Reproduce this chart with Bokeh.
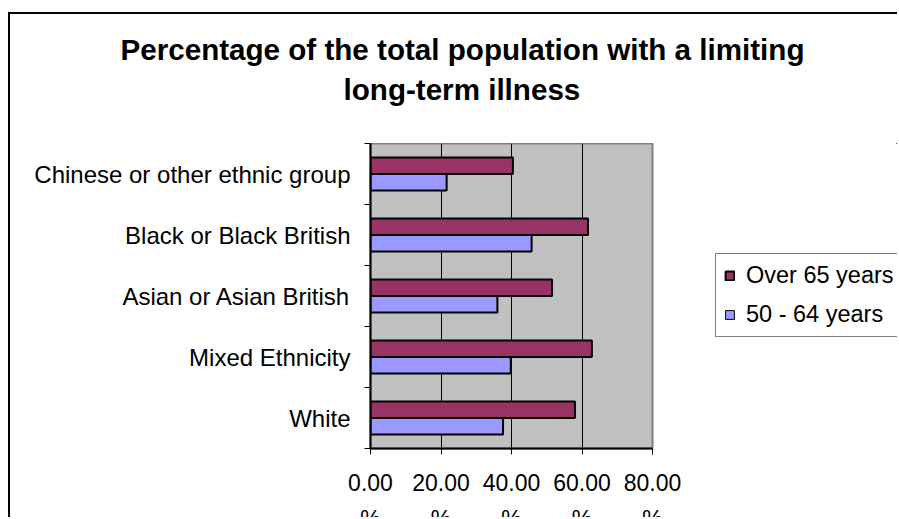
from bokeh.plotting import figure
from bokeh.layouts import row, column
from bokeh.models import Range1d, FixedTicker, Legend, LegendItem, Title, ColumnDataSource
from bokeh.core.properties import value
from bokeh.embed import file_html
from bokeh.resources import INLINE

categories = ["White", "Mixed Ethnicity", "Asian or Asian British",
              "Black or Black British", "Chinese or other ethnic group"]
over65 = [58.0, 62.8, 51.5, 61.7, 40.4]
age50_64 = [37.6, 39.8, 36.0, 45.7, 21.6]
x_ticks = [0, 20, 40, 60, 80]
x_tick_labels = ["0.00\n%", "20.00\n%", "40.00\n%", "60.00\n%", "80.00\n%"]
series_names = ["Over 65 years", "50 - 64 years"]
colors = ["#993366", "#9999FF"]
title_lines = ["Percentage of the total population with a limiting", "long-term illness"]

FONT = "Liberation Sans"
centers = [i + 0.5 for i in range(len(categories))]
off = 0.135
bh = 0.27
X0, X1 = 0, 80
FULL_W = 889
LEFT, RIGHT = 360, 65     # side borders of the main chart (px)
CHART_W = 707
FRAME_W = CHART_W - LEFT - RIGHT

# ---- title strip ----
pt = figure(width=FULL_W, height=131, output_backend="svg", toolbar_location=None,
            x_axis_location=None, y_axis_location=None,
            min_border_left=0, min_border_right=0, min_border_top=127, min_border_bottom=0,
            styles={"border-left": "2px solid black", "border-top": "2px solid black"})
pt.outline_line_color = None
pt.background_fill_color = "white"
pt.border_fill_color = "white"
pt.xgrid.grid_line_color = None
pt.ygrid.grid_line_color = None
spacer = Title(text=" ", align="left", text_font=FONT, text_font_size="1px", standoff=30)
t2 = Title(text=title_lines[1], align="left", text_font=FONT, text_font_size="29.6px",
           text_font_style="bold", text_color="black", offset=333, standoff=6)
t1 = Title(text=title_lines[0], align="left", text_font=FONT, text_font_size="29.6px",
           text_font_style="bold", text_color="black", offset=110, standoff=4)
pt.add_layout(spacer, "above")
pt.add_layout(t2, "above")
pt.add_layout(t1, "above")

# ---- main chart ----
p = figure(width=CHART_W, height=313, output_backend="svg", toolbar_location=None,
           x_range=Range1d(X0, X1), y_range=Range1d(0, len(categories)),
           min_border_left=LEFT, min_border_right=RIGHT, min_border_top=0,
           min_border_bottom=8,
           styles={"border-left": "2px solid black"})

p.background_fill_color = "#C0C0C0"
p.border_fill_color = "white"
p.outline_line_color = "#808080"
p.outline_line_width = 2

src1 = ColumnDataSource(dict(y=[c + off for c in centers], right=over65))
src2 = ColumnDataSource(dict(y=[c - off for c in centers], right=age50_64))
r1 = p.hbar(y="y", left=0, right="right", height=bh, source=src1,
            fill_color=colors[0], line_color="black", line_width=2)
r2 = p.hbar(y="y", left=0, right="right", height=bh, source=src2,
            fill_color=colors[1], line_color="black", line_width=2)

p.xaxis.ticker = FixedTicker(ticks=x_ticks)
p.xaxis.major_label_overrides = {t: "" for t in x_ticks}
p.xaxis.major_label_standoff = 0
p.xaxis.axis_line_color = "black"
p.xaxis.axis_line_width = 2
p.xaxis.major_tick_line_color = "black"
p.xaxis.major_tick_out = 6
p.xaxis.major_tick_in = 0
p.xaxis.minor_tick_line_color = None

p.yaxis.ticker = FixedTicker(ticks=centers, minor_ticks=list(range(len(categories) + 1)))
p.yaxis.major_label_overrides = {c: n for c, n in zip(centers, categories)}
p.yaxis.major_label_text_font = FONT
p.yaxis.major_label_text_font_size = "24px"
p.yaxis.major_label_text_color = "black"
p.yaxis.axis_line_color = "black"
p.yaxis.axis_line_width = 2
p.yaxis.major_tick_line_color = None
p.yaxis.major_tick_out = 0
p.yaxis.major_tick_in = 0
p.yaxis.minor_tick_line_color = "black"
p.yaxis.minor_tick_out = 6
p.yaxis.minor_tick_in = 0
p.yaxis.major_label_standoff = 14

p.xgrid.grid_line_color = "black"
p.xgrid.grid_line_width = 1
p.ygrid.grid_line_color = None

# ---- legend panel (its frame lines up with the chart's frame) ----
pl = figure(width=182, height=313, output_backend="svg", toolbar_location=None,
            x_axis_location=None, y_axis_location=None,
            x_range=Range1d(-2, -1), y_range=Range1d(-2, -1),
            min_border_left=0, min_border_right=0, min_border_top=0, min_border_bottom=0)
pl.outline_line_color = None
pl.background_fill_color = "white"
pl.border_fill_color = "white"
pl.xgrid.grid_line_color = None
pl.ygrid.grid_line_color = None
k1 = pl.hbar(y="y", left=0, right="right", height=bh, source=ColumnDataSource(dict(src1.data)),
             fill_color=colors[0], line_color="black", line_width=2)
k2 = pl.hbar(y="y", left=0, right="right", height=bh, source=ColumnDataSource(dict(src2.data)),
             fill_color=colors[1], line_color="black", line_width=1)

legend = Legend(items=[LegendItem(label=series_names[0], renderers=[k1]),
                       LegendItem(label=series_names[1], renderers=[k2])],
                location=(0, 111))
legend.label_text_font = FONT
legend.label_text_font_size = "23.5px"
legend.label_text_color = "black"
legend.border_line_color = "black"
legend.border_line_width = 1
legend.background_fill_color = "white"
legend.background_fill_alpha = 1
legend.glyph_width = 11
legend.glyph_height = 11
legend.label_height = 24
legend.label_standoff = 11
legend.spacing = 12
legend.padding = 8
legend.margin = 0
legend.label_text_baseline = "middle"
pl.add_layout(legend, "center")

# ---- x tick-label strip (same scale as the chart's x axis, full width) ----
px_per_unit = FRAME_W / (X1 - X0)
ps = figure(width=FULL_W, height=61, output_backend="svg", toolbar_location=None,
            x_axis_location=None, y_axis_location=None,
            x_range=Range1d(X0 - LEFT / px_per_unit,
                            X1 + (FULL_W - LEFT - FRAME_W) / px_per_unit),
            y_range=Range1d(0, 1),
            min_border_left=0, min_border_right=0, min_border_top=0, min_border_bottom=0,
            styles={"border-left": "2px solid black"})
ps.outline_line_color = None
ps.background_fill_color = "white"
ps.border_fill_color = "white"
ps.xgrid.grid_line_color = None
ps.ygrid.grid_line_color = None
ps.text(x=x_ticks, y=[1] * len(x_ticks), text=x_tick_labels,
        text_font=value(FONT), text_font_size="23px", text_color="black",
        text_align="center", text_baseline="top", y_offset=13, text_line_height=1.39)

layout = column(pt, row(p, pl), ps,
                styles={"margin-top": "12px", "margin-left": "8px"})

open("out.html", "w").write(file_html(layout, INLINE))
